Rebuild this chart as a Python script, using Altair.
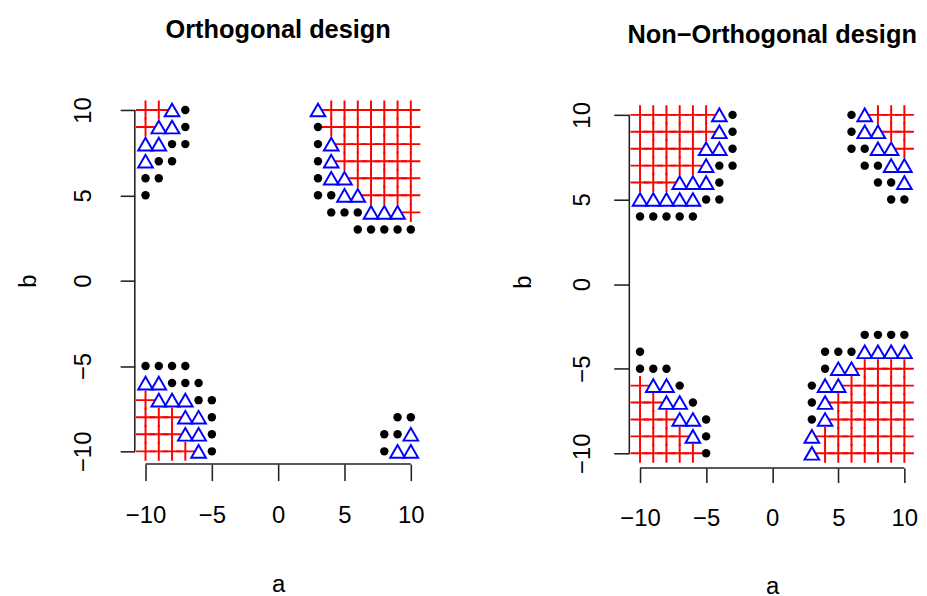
import altair as alt
import pandas as pd

FONT = "Liberation Sans"

# ---------------- Orthogonal design ----------------
orth_plus_a = [-10, -9, -10,
               4, 5, 6, 7, 8, 9, 10,
               4, 5, 6, 7, 8, 9, 10,
               5, 6, 7, 8, 9, 10,
               5, 6, 7, 8, 9, 10,
               6, 7, 8, 9, 10,
               7, 8, 9, 10,
               10,
               -10,
               -10, -9, -8,
               -10, -9, -8,
               -10, -9, -8, -7]
orth_plus_b = [10, 10, 9,
               10, 10, 10, 10, 10, 10, 10,
               9, 9, 9, 9, 9, 9, 9,
               8, 8, 8, 8, 8, 8,
               7, 7, 7, 7, 7, 7,
               6, 6, 6, 6, 6,
               5, 5, 5, 5,
               4,
               -7,
               -8, -8, -8,
               -9, -9, -9,
               -10, -10, -10, -10]
orth_tri_a = [-8, -9, -8, -10, -9, -10,
              3, 4, 4, 4, 5, 5, 6, 7, 8, 9,
              -10, -9, -9, -8, -7, -7, -6, -7, -6, -6,
              10, 9, 10]
orth_tri_b = [10, 9, 9, 8, 8, 7,
              10, 8, 7, 6, 6, 5, 5, 4, 4, 4,
              -6, -6, -7, -7, -7, -8, -8, -9, -9, -10,
              -9, -10, -10]
orth_dot_a = [-7, -7, -8, -7, -9, -8, -10, -9, -10,
              3, 3, 3, 3, 3, 4, 4, 5, 6, 6, 7, 8, 9, 10,
              -10, -9, -8, -7, -8, -7, -6, -6, -5, -5, -5, -5,
              9, 10, 8, 9, 8]
orth_dot_b = [10, 9, 8, 8, 7, 7, 6, 6, 5,
              9, 8, 7, 6, 5, 5, 4, 4, 4, 3, 3, 3, 3, 3,
              -5, -5, -5, -5, -6, -6, -6, -7, -7, -8, -9, -10,
              -8, -8, -9, -9, -10]

# ---------------- Non-Orthogonal design ----------------
non_plus_a = [-10, -9, -8, -7, -6, -5,
              -10, -9, -8, -7, -6, -5,
              -10, -9, -8, -7, -6,
              -10, -9, -8, -7, -6,
              -10, -9, -8,
              8, 9, 10, 9, 10, 10,
              -10,
              -10, -9,
              -10, -9, -8,
              -10, -9, -8, -7,
              -10, -9, -8, -7, -6,
              7, 8, 9, 10,
              6, 7, 8, 9, 10,
              5, 6, 7, 8, 9, 10,
              5, 6, 7, 8, 9, 10,
              4, 5, 6, 7, 8, 9, 10,
              4, 5, 6, 7, 8, 9, 10]
non_plus_b = [10, 10, 10, 10, 10, 10,
              9, 9, 9, 9, 9, 9,
              8, 8, 8, 8, 8,
              7, 7, 7, 7, 7,
              6, 6, 6,
              10, 10, 10, 9, 9, 8,
              -6,
              -7, -7,
              -8, -8, -8,
              -9, -9, -9, -9,
              -10, -10, -10, -10, -10,
              -5, -5, -5, -5,
              -6, -6, -6, -6, -6,
              -7, -7, -7, -7, -7, -7,
              -8, -8, -8, -8, -8, -8,
              -9, -9, -9, -9, -9, -9, -9,
              -10, -10, -10, -10, -10, -10, -10]
non_tri_a = [-4, -4, -5, -4, -5, -7, -6, -5, -10, -9, -8, -7, -6,
             7, 7, 8, 8, 9, 9, 10, 10,
             -9, -8, -8, -7, -7, -6, -6,
             7, 8, 9, 10, 5, 6, 4, 5, 4, 4, 3, 3]
non_tri_b = [10, 9, 8, 8, 7, 6, 6, 6, 5, 5, 5, 5, 5,
             10, 9, 9, 8, 8, 7, 7, 6,
             -6, -6, -7, -7, -8, -8, -9,
             -4, -4, -4, -4, -5, -5, -6, -6, -7, -8, -9, -10]
non_dot_a = [-3, -3, -3, -4, -3, -4, -5, -4, -10, -9, -8, -7, -6,
             6, 6, 6, 7, 7, 8, 8, 9, 9, 10,
             -10, -10, -9, -8, -7, -6, -5, -5, -5,
             7, 8, 9, 10, 4, 5, 6, 4, 3, 3, 3]
non_dot_b = [10, 9, 8, 7, 7, 6, 5, 5, 4, 4, 4, 4, 4,
             10, 9, 8, 8, 7, 7, 6, 6, 5, 5,
             -4, -5, -5, -5, -6, -7, -8, -9, -10,
             -3, -3, -3, -3, -4, -4, -4, -5, -6, -7, -8]

tick_values = [-10, -5, 0, 5, 10]
titles = ["Orthogonal design", "Non\u2212Orthogonal design"]

PLUS = "M-1,0H1M0,-1V1"


def panel(title, pa, pb, ta, tb, da, db, w, h, ydom, t_off,
          x_off, x_tick, x_lpad, x_tpad, y_off, y_tick, y_lpad, y_tpad):
    xs = alt.Scale(domain=[-10, 10], nice=False, zero=False)
    ys = alt.Scale(domain=ydom, nice=False, zero=False)
    common = dict(values=tick_values, domain=False, grid=False,
                  tickColor="#222222", tickWidth=1.6,
                  labelFont=FONT, labelFontSize=24.5, labelColor="black",
                  labelFlush=False, labelOverlap=False,
                  titleFont=FONT, titleFontSize=24.5, titleFontWeight="normal",
                  titleColor="black")
    xax = alt.Axis(title="a", offset=x_off, tickSize=x_tick,
                   labelPadding=x_lpad, titlePadding=x_tpad, **common)
    yax = alt.Axis(title="b", offset=y_off, tickSize=y_tick,
                   labelPadding=y_lpad, titlePadding=y_tpad, labelAngle=-90,
                   labelAlign="center", labelBaseline="alphabetic", **common)

    X = alt.X("a:Q", scale=xs, axis=xax)
    Y = alt.Y("b:Q", scale=ys, axis=yax)

    plus = alt.Chart(pd.DataFrame({"a": pa, "b": pb})).mark_point(
        shape=PLUS, size=380, filled=False, color="#ff0000",
        strokeWidth=2, opacity=1).encode(x=X, y=Y)
    tri = alt.Chart(pd.DataFrame({"a": ta, "b": tb})).mark_point(
        shape="triangle-up", size=225, filled=False, color="#0000ff",
        strokeWidth=2, opacity=1).encode(x=X, y=Y)
    dot = alt.Chart(pd.DataFrame({"a": da, "b": db})).mark_circle(
        size=75, color="black", opacity=1).encode(x=X, y=Y)

    xline = alt.Chart(pd.DataFrame({"a": [-10], "a2": [10]})).mark_rule(
        color="#222222", strokeWidth=1.6).encode(
        x=X, x2="a2:Q", y=alt.value(h + x_off))
    yline = alt.Chart(pd.DataFrame({"b": [-10], "b2": [10]})).mark_rule(
        color="#222222", strokeWidth=1.6).encode(
        y=Y, y2="b2:Q", x=alt.value(-y_off))

    return alt.layer(plus, tri, dot, xline, yline).properties(
        width=w, height=h,
        title=alt.TitleParams(title, font=FONT, fontSize=26, fontWeight="bold",
                              anchor="middle", frame="group",
                              baseline="alphabetic", offset=t_off,
                              color="black"))


left = panel(titles[0], orth_plus_a, orth_plus_b, orth_tri_a, orth_tri_b,
             orth_dot_a, orth_dot_b, 272, 350, [-10, 10], 34,
             13, 17, 24, 47, 11, 15, 30, 32)
right = panel(titles[1], non_plus_a, non_plus_b, non_tri_a, non_tri_b,
              non_dot_a, non_dot_b, 271, 352, [-10, 10.29], 34,
              15, 15, 25, 46, 11, 16, 25, 35)

chart = alt.hconcat(left, right, spacing=87).properties(
    padding={"left": 7, "top": 1, "right": 0, "bottom": 0}
).configure_view(stroke="transparent")

chart.save("out.html", embed_options={"renderer": "svg", "actions": False})
